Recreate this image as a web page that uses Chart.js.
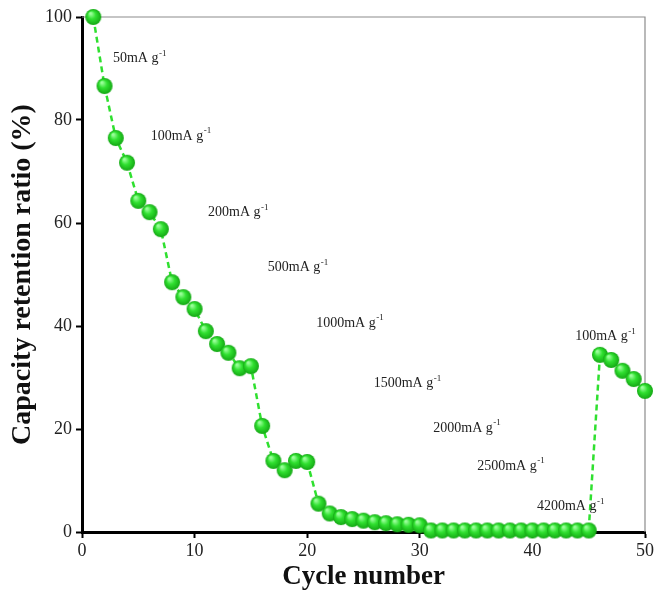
<!DOCTYPE html>
<html>
<head>
<meta charset="utf-8">
<script src="https://cdn.jsdelivr.net/npm/chart.js@4.4.1/dist/chart.umd.min.js"></script>
<style>
  html, body { margin: 0; padding: 0; background: #fff; }
  #wrap { width: 658px; height: 597px; }
</style>
</head>
<body>
<div id="wrap"><canvas id="chart"></canvas></div>
<script>
// cycle numbers and capacity retention (%)
const cycles = [];
for (let i = 1; i <= 50; i++) cycles.push(i);
const retention = [
  100, 86.6, 76.5, 71.7, 64.3, 62.1, 58.8, 48.5, 45.6, 43.3,
  39.0, 36.5, 34.8, 31.8, 32.2, 20.6, 13.8, 12.0, 13.8, 13.6,
  5.5, 3.6, 2.9, 2.5, 2.2, 1.9, 1.7, 1.5, 1.4, 1.3,
  0.3, 0.3, 0.3, 0.3, 0.3, 0.3, 0.3, 0.3, 0.3, 0.3,
  0.3, 0.3, 0.3, 0.3, 0.3, 34.4, 33.4, 31.3, 29.7, 27.4
];
const xTicks = [0, 10, 20, 30, 40, 50];
const yTicks = [0, 20, 40, 60, 80, 100];

// current density labels, placed at (cycle, retention)
const rateLabels = ['50mA g', '100mA g', '200mA g', '500mA g', '1000mA g',
  '1500mA g', '2000mA g', '2500mA g', '4200mA g', '100mA g'];
const rateX = [2.75, 6.1, 11.2, 16.5, 20.8, 25.9, 31.2, 35.1, 40.4, 43.8];
const rateY = [92, 76.9, 62.1, 51.3, 40.6, 28.9, 20.2, 12.8, 5.0, 37.9];

// shaded green ball used as point marker
function makeBall(r) {
  const c = document.createElement('canvas');
  c.width = c.height = r * 2 + 2;
  const g = c.getContext('2d');
  const cx = r + 1, cy = r + 1;
  const grad = g.createRadialGradient(cx - r * 0.35, cy - r * 0.45, r * 0.1, cx, cy, r);
  grad.addColorStop(0, '#9cff9c');
  grad.addColorStop(0.45, '#30e030');
  grad.addColorStop(1, '#14a814');
  g.fillStyle = grad;
  g.beginPath();
  g.arc(cx, cy, r, 0, Math.PI * 2);
  g.fill();
  return c;
}
const ball = makeBall(8);

const framePlugin = {
  id: 'frame',
  beforeDatasetsDraw(chart) {
    const { ctx, chartArea: a } = chart;
    ctx.save();
    ctx.strokeStyle = '#8c8c8c';
    ctx.lineWidth = 1.2;
    ctx.beginPath();
    ctx.moveTo(a.left, a.top);
    ctx.lineTo(a.right, a.top);
    ctx.lineTo(a.right, a.bottom);
    ctx.stroke();
    ctx.restore();
  },
  afterDatasetsDraw(chart) {
    const { ctx, scales } = chart;
    ctx.save();
    ctx.fillStyle = '#222';
    ctx.textBaseline = 'middle';
    ctx.textAlign = 'left';
    rateLabels.forEach((t, i) => {
      const px = scales.x.getPixelForValue(rateX[i]);
      const py = scales.y.getPixelForValue(rateY[i]);
      ctx.font = '14px "Liberation Serif", "Times New Roman", serif';
      ctx.fillText(t, px, py);
      const w = ctx.measureText(t).width;
      ctx.font = '9px "Liberation Serif", "Times New Roman", serif';
      ctx.fillText('-1', px + w + 0.5, py - 5);
    });
    ctx.restore();
  }
};

new Chart(document.getElementById('chart'), {
  type: 'line',
  data: {
    labels: cycles,
    datasets: [{
      data: retention,
      borderColor: '#2fe02f',
      borderWidth: 2.5,
      borderDash: [6, 4],
      pointStyle: ball,
      pointRadius: 8,
      tension: 0,
      clip: false
    }]
  },
  options: {
    responsive: true,
    maintainAspectRatio: false,
    animation: false,
    layout: { padding: { top: 17, right: 13, left: 0, bottom: 0 } },
    plugins: { legend: { display: false }, tooltip: { enabled: false } },
    scales: {
      x: {
        type: 'linear',
        min: 0, max: 50,
        afterFit: s => { s.height = 65; },
        afterBuildTicks: s => { s.ticks = xTicks.map(v => ({ value: v })); },
        border: { display: true, color: '#000', width: 3 },
        grid: { drawOnChartArea: false, tickLength: 6, tickColor: '#000', tickWidth: 2 },
        ticks: { color: '#222', padding: 2, font: { family: '"Liberation Serif", serif', size: 18 } },
        title: { display: true, text: 'Cycle number', color: '#111', padding: { top: 1 },
          font: { family: '"Liberation Serif", serif', size: 27, weight: 'bold' } }
      },
      y: {
        min: 0, max: 100,
        afterFit: s => { s.width = 82; },
        afterBuildTicks: s => { s.ticks = yTicks.map(v => ({ value: v })); },
        border: { display: true, color: '#000', width: 3 },
        grid: { drawOnChartArea: false, tickLength: 6, tickColor: '#000', tickWidth: 2 },
        ticks: { color: '#222', padding: 4, font: { family: '"Liberation Serif", serif', size: 18 } },
        title: { display: true, text: 'Capacity retention ratio (%)', color: '#111', padding: { top: 6, bottom: 0 },
          font: { family: '"Liberation Serif", serif', size: 28, weight: 'bold' } }
      }
    }
  },
  plugins: [framePlugin]
});
</script>
</body>
</html>
